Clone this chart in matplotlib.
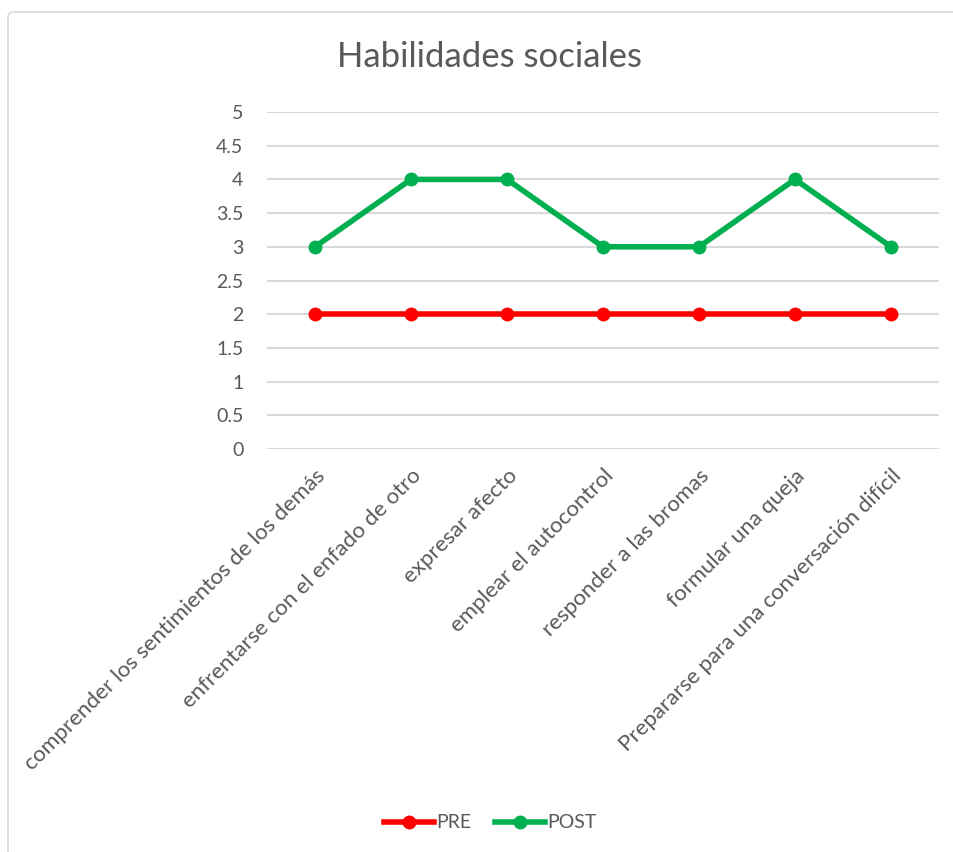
import matplotlib
matplotlib.use("Agg")
import matplotlib.pyplot as plt
from matplotlib.patches import FancyBboxPatch

# data
categorias = ["comprender los sentimientos de los demás",
              "enfrentarse con el enfado de otro",
              "expresar afecto",
              "emplear el autocontrol",
              "responder a las bromas",
              "formular una queja",
              "Prepararse para una conversación difícil"]
pre = [2, 2, 2, 2, 2, 2, 2]
post = [3, 4, 4, 3, 3, 4, 3]
yticks = [0, 0.5, 1, 1.5, 2, 2.5, 3, 3.5, 4, 4.5, 5]

plt.rcParams['font.family'] = ['Lato', 'DejaVu Sans']
W, H = 954, 852
fig = plt.figure(figsize=(W/100, H/100), dpi=100)

# chart frame
frame = FancyBboxPatch((8/W, 1 - 860/H), 970/W, 848/H,
                       boxstyle="round,pad=0,rounding_size=0.006",
                       transform=fig.transFigure, fc="white", ec="#d9d9d9", lw=1.2,
                       zorder=-5)
fig.patches.append(frame)
fig.patch.set_facecolor("white")

ax = fig.add_axes([267/W, 1 - 449/H, (939-267)/W, (449-112)/H])
ax.set_zorder(2)
x = list(range(len(categorias)))

for y in yticks:
    ax.axhline(y, color="#d9d9d9", lw=1.5, zorder=1)

ax.plot(x, pre, color="#ff0000", lw=4, marker="o", ms=9, label="PRE", zorder=3)
ax.plot(x, post, color="#00b050", lw=4, marker="o", ms=9, label="POST", zorder=3)

ax.set_xlim(-0.5, len(categorias) - 0.5)
ax.set_ylim(0, 5)
ax.set_yticks(yticks)
ax.set_yticklabels([f"{v:g}" for v in yticks], color="#595959", fontsize=14)
ax.set_xticks(x)
ax.set_xticklabels(categorias, rotation=45, ha="right", rotation_mode="anchor",
                   color="#595959", fontsize=16)
ax.tick_params(axis="both", length=0)
ax.tick_params(axis="y", pad=17)
ax.tick_params(axis="x", pad=12)
for s in ax.spines.values():
    s.set_visible(False)
ax.set_facecolor("none")

fig.text(490/W, 1 - 57/H, "Habilidades sociales", ha="center", va="center",
         fontsize=25, color="#595959")

fig.legend(loc="center", bbox_to_anchor=(490/W, 1 - 823/H), ncol=2, frameon=False,
           fontsize=14, handlelength=2.6, handletextpad=0.1, columnspacing=1.2,
           labelcolor="#595959")

fig.savefig("out.png", dpi=100)
